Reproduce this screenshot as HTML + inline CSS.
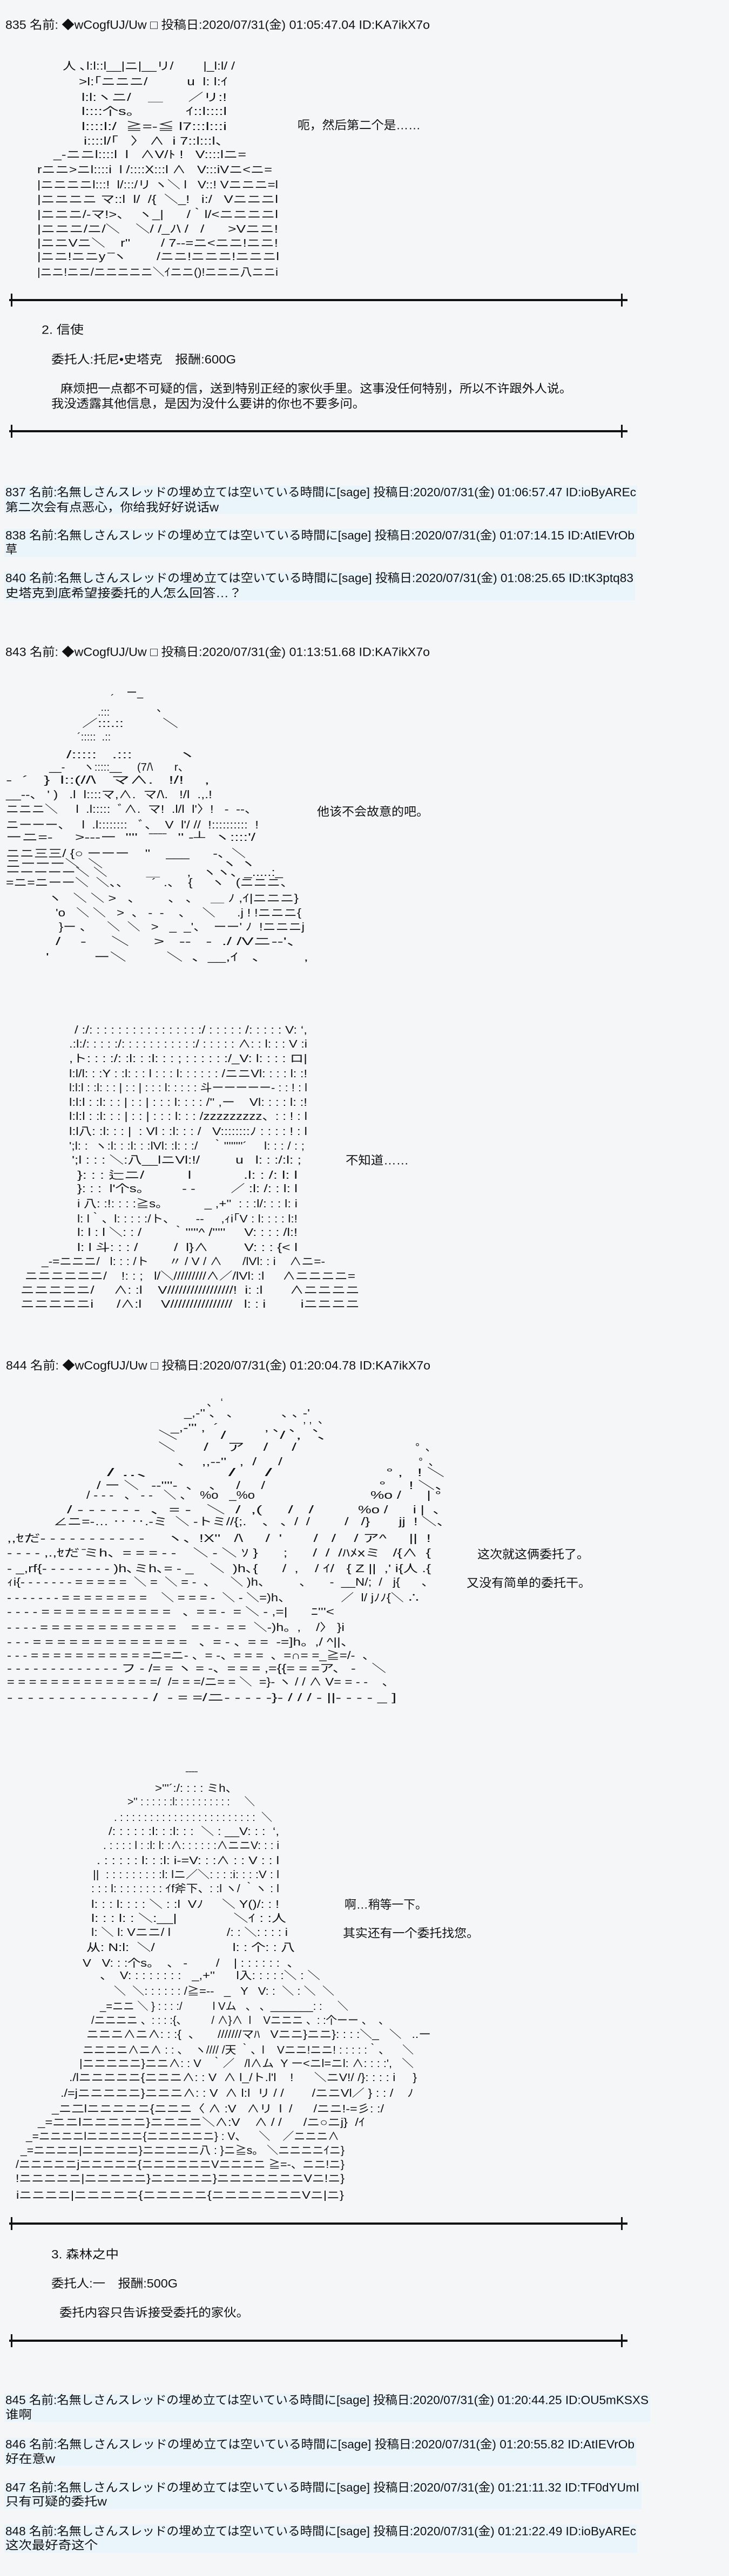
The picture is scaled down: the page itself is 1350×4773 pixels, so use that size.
<!DOCTYPE html>
<html><head><meta charset="utf-8"><style>
html,body{margin:0;padding:0;background:#f5f6f7;}
svg{display:block}
text{font-family:"Liberation Sans","Noto Sans CJK JP",sans-serif;fill:#111;dominant-baseline:central;white-space:pre}
.a{font-size:20px}
.t{font-size:22px}
</style></head><body>
<svg width="1350" height="4773" viewBox="0 0 1350 4773" xmlns="http://www.w3.org/2000/svg" xml:space="preserve">
<rect width="1350" height="4773" fill="#f5f6f7"/>
<!-- highlight for anon posts -->
<g fill="#eaf4fb">
<rect x="8" y="900" width="1172" height="52"/><rect x="8" y="980" width="1170" height="52"/><rect x="8" y="1059" width="1168" height="54"/>
<rect x="8" y="4435" width="1196" height="52"/><rect x="8" y="4517" width="1170" height="52"/><rect x="8" y="4597" width="1180" height="52"/><rect x="8" y="4678" width="1172" height="52"/>
</g>
<!-- rules -->
<g fill="#111">
<rect x="17" y="554" width="1145" height="4"/><rect x="20" y="544" width="3" height="24"/><rect x="1150" y="544" width="3" height="24"/>
<rect x="17" y="797" width="1145" height="4"/><rect x="20" y="787" width="3" height="24"/><rect x="1150" y="787" width="3" height="24"/>
<rect x="17" y="4118" width="1145" height="4"/><rect x="20" y="4108" width="3" height="24"/><rect x="1150" y="4108" width="3" height="24"/>
<rect x="17" y="4335" width="1145" height="4"/><rect x="20" y="4325" width="3" height="24"/><rect x="1150" y="4325" width="3" height="24"/>
</g>

<!-- headers and posts -->
<g class="t">
<text class="t" x="10" y="46" textLength="786" lengthAdjust="spacingAndGlyphs">835 名前: ◆wCogfUJ/Uw □ 投稿日:2020/07/31(金) 01:05:47.04 ID:KA7ikX7o</text>
<text class="t" x="551" y="232" textLength="228" lengthAdjust="spacingAndGlyphs">呃，然后第二个是……</text>
<text class="t" x="77" y="611" textLength="78" lengthAdjust="spacingAndGlyphs">2. 信使</text>
<text class="t" x="95" y="666" textLength="342" lengthAdjust="spacingAndGlyphs">委托人:托尼•史塔克　报酬:600G</text>
<text class="t" x="112" y="720" textLength="947" lengthAdjust="spacingAndGlyphs">麻烦把一点都不可疑的信，送到特别正经的家伙手里。这事没任何特别，所以不许跟外人说。</text>
<text class="t" x="95" y="748" textLength="581" lengthAdjust="spacingAndGlyphs">我没透露其他信息，是因为没什么要讲的你也不要多问。</text>

<text class="t" x="10" y="912" textLength="1168" lengthAdjust="spacingAndGlyphs">837 名前:名無しさんスレッドの埋め立ては空いている時間に[sage] 投稿日:2020/07/31(金) 01:06:57.47 ID:ioByAREc</text>
<text class="t" x="10" y="940" textLength="395" lengthAdjust="spacingAndGlyphs">第二次会有点恶心，你给我好好说话w</text>
<text class="t" x="10" y="992" textLength="1165" lengthAdjust="spacingAndGlyphs">838 名前:名無しさんスレッドの埋め立ては空いている時間に[sage] 投稿日:2020/07/31(金) 01:07:14.15 ID:AtIEVrOb</text>
<text class="t" x="10" y="1018">草</text>
<text class="t" x="10" y="1071" textLength="1163" lengthAdjust="spacingAndGlyphs">840 名前:名無しさんスレッドの埋め立ては空いている時間に[sage] 投稿日:2020/07/31(金) 01:08:25.65 ID:tK3ptq83</text>
<text class="t" x="10" y="1099" textLength="438" lengthAdjust="spacingAndGlyphs">史塔克到底希望接委托的人怎么回答…？</text>

<text class="t" x="10" y="1208" textLength="786" lengthAdjust="spacingAndGlyphs">843 名前: ◆wCogfUJ/Uw □ 投稿日:2020/07/31(金) 01:13:51.68 ID:KA7ikX7o</text>
<text class="t" x="587" y="1504" textLength="207" lengthAdjust="spacingAndGlyphs">他该不会故意的吧。</text>
<text class="t" x="640" y="2150" textLength="117" lengthAdjust="spacingAndGlyphs">不知道……</text>

<text class="t" x="11" y="2530" textLength="786" lengthAdjust="spacingAndGlyphs">844 名前: ◆wCogfUJ/Uw □ 投稿日:2020/07/31(金) 01:20:04.78 ID:KA7ikX7o</text>
<text class="t" x="884" y="2880" textLength="207" lengthAdjust="spacingAndGlyphs">这次就这俩委托了。</text>
<text class="t" x="864" y="2933" textLength="230" lengthAdjust="spacingAndGlyphs">又没有简单的委托干。</text>
<text class="t" x="638" y="3529" textLength="153" lengthAdjust="spacingAndGlyphs">啊…稍等一下。</text>
<text class="t" x="635" y="3582" textLength="252" lengthAdjust="spacingAndGlyphs">其实还有一个委托找您。</text>

<text class="t" x="95" y="4177" textLength="125" lengthAdjust="spacingAndGlyphs">3. 森林之中</text>
<text class="t" x="95" y="4231" textLength="234" lengthAdjust="spacingAndGlyphs">委托人:一　报酬:500G</text>
<text class="t" x="110" y="4285" textLength="351" lengthAdjust="spacingAndGlyphs">委托内容只告诉接受委托的家伙。</text>

<text class="t" x="10" y="4447" textLength="1191" lengthAdjust="spacingAndGlyphs">845 名前:名無しさんスレッドの埋め立ては空いている時間に[sage] 投稿日:2020/07/31(金) 01:20:44.25 ID:OU5mKSXS</text>
<text class="t" x="10" y="4474" textLength="49" lengthAdjust="spacingAndGlyphs">谁啊</text>
<text class="t" x="10" y="4529" textLength="1165" lengthAdjust="spacingAndGlyphs">846 名前:名無しさんスレッドの埋め立ては空いている時間に[sage] 投稿日:2020/07/31(金) 01:20:55.82 ID:AtIEVrOb</text>
<text class="t" x="10" y="4556" textLength="92" lengthAdjust="spacingAndGlyphs">好在意w</text>
<text class="t" x="10" y="4609" textLength="1174" lengthAdjust="spacingAndGlyphs">847 名前:名無しさんスレッドの埋め立ては空いている時間に[sage] 投稿日:2020/07/31(金) 01:21:11.32 ID:TF0dYUmI</text>
<text class="t" x="10" y="4635" textLength="188" lengthAdjust="spacingAndGlyphs">只有可疑的委托w</text>
<text class="t" x="10" y="4690" textLength="1168" lengthAdjust="spacingAndGlyphs">848 名前:名無しさんスレッドの埋め立ては空いている時間に[sage] 投稿日:2020/07/31(金) 01:21:22.49 ID:ioByAREc</text>
<text class="t" x="10" y="4716" textLength="171" lengthAdjust="spacingAndGlyphs">这次最好奇这个</text>
</g>

<!-- AA block 1 -->
<g class="a">
<text class="a" x="116" y="123" textLength="319" lengthAdjust="spacingAndGlyphs">人 ､l:l::l__|ニ|__リ/        |_l:l/ /</text>
<text class="a" x="146" y="152" textLength="276" lengthAdjust="spacingAndGlyphs">&gt;l:｢ニニニ/          u  l: l:ｲ</text>
<text class="a" x="151" y="181" textLength="269" lengthAdjust="spacingAndGlyphs">l:l:ヽニ/    ＿      ／リ:!</text>
<text class="a" x="151" y="207" textLength="269" lengthAdjust="spacingAndGlyphs">l::::个s。          ｲ::l::::l</text>
<text class="a" x="151" y="235" textLength="269" lengthAdjust="spacingAndGlyphs">l::::l:/  ≧=-≦ l7:::l:::i</text>
<text class="a" x="155" y="262" textLength="271" lengthAdjust="spacingAndGlyphs">i::::l/｢   〉 ∧  i 7::l:::l、</text>
<text class="a" x="99" y="287" textLength="357" lengthAdjust="spacingAndGlyphs">_-ニニl::::l  l   ∧V/ﾄ !   V::::lニ=</text>
<text class="a" x="69" y="315" textLength="435" lengthAdjust="spacingAndGlyphs">rニニ&gt;ニl::::i  l /::::X:::l ∧   V:::iVニ&lt;ニ=</text>
<text class="a" x="69" y="343" textLength="446" lengthAdjust="spacingAndGlyphs">|ニニニニl:::!  l/:::/リ ヽ＼ l   V::! Vニニニ=l</text>
<text class="a" x="69" y="370" textLength="446" lengthAdjust="spacingAndGlyphs">|ニニニニ マ::l  l/  /{  ＼_!   i:/   Vニニニl</text>
<text class="a" x="69" y="398" textLength="446" lengthAdjust="spacingAndGlyphs">|ニニニ/-マ!&gt;、  ヽ_|      /｀l/&lt;ニニニニl</text>
<text class="a" x="69" y="425" textLength="446" lengthAdjust="spacingAndGlyphs">|ニニニ/ニ/＼    ＼/ /_ﾉ\ /   /      &gt;Vニニ!</text>
<text class="a" x="69" y="451" textLength="446" lengthAdjust="spacingAndGlyphs">|ニニVニ＼    r''        / 7--=ニ&lt;ニニ!ニニ!</text>
<text class="a" x="69" y="476" textLength="448" lengthAdjust="spacingAndGlyphs">|ニニ!ニニy ̄ ̄ヽ        /ニニ!ニニニ!ニニニl</text>
<text class="a" x="69" y="505" textLength="446" lengthAdjust="spacingAndGlyphs">|ニニ!ニニ/ニニニニニ＼ｲニニ()!ニニニ八ニニi</text>
</g>

<!-- AA block 2 -->
<g class="a">
<text class="a" x="234" y="1284">ー_</text>
<text class="a" x="205" y="1295">´</text>
<text class="a" x="290" y="1312">、</text>
<text class="a" x="181" y="1320">.:::</text>
<text class="a" x="152" y="1341" textLength="178" lengthAdjust="spacingAndGlyphs">／:::.::         ＼</text>
<text class="a" x="143" y="1366">´:::::  .::</text>
<text class="a" x="123" y="1399" textLength="240" lengthAdjust="spacingAndGlyphs">/:::::   .:::         ヽ</text>
<text class="a" x="91" y="1422" textLength="259" lengthAdjust="spacingAndGlyphs">__-      ヽ:::::__     (7/\       r、</text>
<text class="a" x="11" y="1446" textLength="377" lengthAdjust="spacingAndGlyphs">-  ´   }  l::(//\   マ∧.   !/!    ,</text>
<text class="a" x="11" y="1473" textLength="382" lengthAdjust="spacingAndGlyphs">__--、 ' )   .l  l::::マ,∧.  マ/\.   !/l  .,.!</text>
<text class="a" x="11" y="1500" textLength="466" lengthAdjust="spacingAndGlyphs">ニニニ＼     l  .l:::::  ﾞ∧.  マ!  .l/l  l'〉!   -  --、</text>
<text class="a" x="11" y="1529" textLength="468" lengthAdjust="spacingAndGlyphs">ニーーー、   l  .l::::::::   ﾞ、  V  l'/ //  !::::::::::  !</text>
<text class="a" x="11" y="1552" textLength="462" lengthAdjust="spacingAndGlyphs">ーニ=-     &gt;---ー  ''''   ̄ ̄ ̄ ̄   '' -┴  ヽ::::'/</text>
<text class="a" x="11" y="1582" textLength="444" lengthAdjust="spacingAndGlyphs">ニニ三三/ {○ ーーー    ''    ___      -、＼</text>
<text class="a" x="11" y="1601" textLength="462" lengthAdjust="spacingAndGlyphs">ニーーー＼  ＼                             ヽ ヽ</text>
<text class="a" x="11" y="1617" textLength="513" lengthAdjust="spacingAndGlyphs">ーーーーー＼ ＼          ＿       ,   ヽヽ、_.....:_</text>
<text class="a" x="11" y="1636" textLength="533" lengthAdjust="spacingAndGlyphs">=ニ=ニーー＼  ＼、、      ´  .、  {     ヽ   (ニニニ、</text>
<text class="a" x="89" y="1665" textLength="464" lengthAdjust="spacingAndGlyphs">ヽ   ＼ ＼ &gt;   、       、 、   ＿ ﾉ ,ｲ|ニニニ}</text>
<text class="a" x="103" y="1692" textLength="455" lengthAdjust="spacingAndGlyphs">'o   ＼ ＼   &gt;  、 -  -    、   ＼      .j ! !ニニニ{</text>
<text class="a" x="109" y="1718" textLength="455" lengthAdjust="spacingAndGlyphs">}ー 、    ＼  ＼   &gt;   _  _'、  ーー' ﾉ  !ニニニj</text>
<text class="a" x="103" y="1745" textLength="461" lengthAdjust="spacingAndGlyphs">/    -     ＼     &gt;   --   -  ./ /Vニ--'、</text>
<text class="a" x="85" y="1774" textLength="486" lengthAdjust="spacingAndGlyphs">'          ー＼         ＼  、__,ｲ   、        ,</text>
</g>

<!-- AA block 3 -->
<g class="a">
<text class="a" x="138" y="1909" textLength="431" lengthAdjust="spacingAndGlyphs">/ :/: : : : : : : : : : : : : : : :/ : : : : : /: : : : : V: ‘,</text>
<text class="a" x="128" y="1935" textLength="441" lengthAdjust="spacingAndGlyphs">.:l:/: : : : :/: : : : : : : : : : :/ : : : : : ∧: : l: : : V :i</text>
<text class="a" x="128" y="1962" textLength="441" lengthAdjust="spacingAndGlyphs">,ト: : : :/: :l: : :l: : : ; : : : : : :/_V: l: : : : ロ|</text>
<text class="a" x="128" y="1990" textLength="441" lengthAdjust="spacingAndGlyphs">l:l/l: : :Y : :l: : : l : : : l: : : : : : /ニニVl: : : : l: :!</text>
<text class="a" x="128" y="2016" textLength="441" lengthAdjust="spacingAndGlyphs">l:l:l : :l: : : | : : | : : : l: : : : : 斗ーーーーー- : : ! : l</text>
<text class="a" x="128" y="2043" textLength="441" lengthAdjust="spacingAndGlyphs">l:l:l : :l: : : | : : | : : : l: : : : /'' ,ー    Vl: : : : l: :!</text>
<text class="a" x="128" y="2069" textLength="441" lengthAdjust="spacingAndGlyphs">l:l:l : :l: : : | : : | : : : l: : : /zzzzzzzzz、: : ! : l</text>
<text class="a" x="128" y="2097" textLength="441" lengthAdjust="spacingAndGlyphs">l:l八: :l: : : |  : Vl : :l: : : /   V::::::::ﾉ : : : : ! : l</text>
<text class="a" x="128" y="2124" textLength="436" lengthAdjust="spacingAndGlyphs">';l: :  ヽ:l: : :l: : :lVl: :l: : :/    ｀''''''''´     l: : : / : ;</text>
<text class="a" x="133" y="2150" textLength="425" lengthAdjust="spacingAndGlyphs">';l : : : ＼:八__lニVl:!/         u   l: : :/:l: ;</text>
<text class="a" x="143" y="2178" textLength="408" lengthAdjust="spacingAndGlyphs">}: : : 辷ニ/          l            .l: : /: l: l</text>
<text class="a" x="143" y="2203" textLength="408" lengthAdjust="spacingAndGlyphs">}: : :  l'个s。        - -         ／ :l: /: : l: l</text>
<text class="a" x="143" y="2231" textLength="408" lengthAdjust="spacingAndGlyphs">i 八: :!: : : :≧s。          _ ,+''  : : :l/: : : l: i</text>
<text class="a" x="143" y="2259" textLength="408" lengthAdjust="spacingAndGlyphs">l: l｀、l: : : : :/ト、      --     ,ｨi｢V : l: : : : l:!</text>
<text class="a" x="143" y="2284" textLength="408" lengthAdjust="spacingAndGlyphs">l: l : l ＼: : /        ｀'''''^ /'''''     V: : : : /l:!</text>
<text class="a" x="143" y="2312" textLength="408" lengthAdjust="spacingAndGlyphs">l: l 斗: : : /         /  l}∧         V: : : {&lt; l</text>
<text class="a" x="77" y="2338" textLength="525" lengthAdjust="spacingAndGlyphs">_-=ニニニ/   l: : : /ト      〃 / V / ∧      /lVl: : i    ∧ニ=-</text>
<text class="a" x="46" y="2365" textLength="612" lengthAdjust="spacingAndGlyphs">ニニニニニニ/    !: : ;   l/＼/////////∧／/lVl: :l     ∧ニニニニ=</text>
<text class="a" x="38" y="2391" textLength="628" lengthAdjust="spacingAndGlyphs">ニニニニニ/     ∧: :l    V/////////////////!  i: :l       ∧ニニニニ</text>
<text class="a" x="38" y="2417" textLength="628" lengthAdjust="spacingAndGlyphs">ニニニニニi      /∧:l     V////////////////   l: : i         iニニニニ</text>
</g>

<!-- AA block 4 -->
<g class="a">
<text class="a" x="383" y="2599">、 ‘</text>
<text class="a" x="341" y="2619" textLength="233" lengthAdjust="spacingAndGlyphs">_,-'' 、 、           ､ ､ ‐'</text>
<text class="a" x="561" y="2631">, ,  、</text>
<text class="a" x="316" y="2646" textLength="290" lengthAdjust="spacingAndGlyphs">_,-''' ,  ´           , ､  、  、</text>
<text class="a" x="293" y="2660" textLength="313" lengthAdjust="spacingAndGlyphs">＼        /          /  ,   ､</text>
<text class="a" x="293" y="2682" textLength="256" lengthAdjust="spacingAndGlyphs">＼      /    ア    /     /</text>
<text class="a" x="769" y="2682">°  ､</text>
<text class="a" x="329" y="2709" textLength="194" lengthAdjust="spacingAndGlyphs">、  ,,--''   ,  /     /</text>
<text class="a" x="775" y="2709">°  ､</text>
<text class="a" x="198" y="2729" textLength="306" lengthAdjust="spacingAndGlyphs">/ ..、         /    /</text>
<text class="a" x="715" y="2729" textLength="108" lengthAdjust="spacingAndGlyphs">° ,   ! ＼</text>
<text class="a" x="179" y="2753" textLength="312" lengthAdjust="spacingAndGlyphs">/ ー ＼   --''''-  、  、   /     /</text>
<text class="a" x="702" y="2753" textLength="134" lengthAdjust="spacingAndGlyphs">°     ! ＼、</text>
<text class="a" x="160" y="2771" textLength="312" lengthAdjust="spacingAndGlyphs">/ - - -   、 - -   ＼ 、  %o   _%o</text>
<text class="a" x="686" y="2771" textLength="131" lengthAdjust="spacingAndGlyphs">%o /      | °</text>
<text class="a" x="124" y="2798" textLength="457" lengthAdjust="spacingAndGlyphs">/ - - - - - -  、= -   ＼  /  ,(     /   /</text>
<text class="a" x="663" y="2798" textLength="166" lengthAdjust="spacingAndGlyphs">%o /      i |  、</text>
<text class="a" x="99" y="2820" textLength="475" lengthAdjust="spacingAndGlyphs">∠ニ=‐… ‥ ‥.‐ミ  ＼ -トミ//{;.    、 、/  /</text>
<text class="a" x="638" y="2820" textLength="198" lengthAdjust="spacingAndGlyphs">/   /}       jj  ! ＼、</text>
<text class="a" x="13" y="2851" textLength="785" lengthAdjust="spacingAndGlyphs">,,ｾだ- - - - - - - - - - -     ヽ、!X''   /\     /  '       /   /    / ア^     ||  !</text>
<text class="a" x="13" y="2878" textLength="785" lengthAdjust="spacingAndGlyphs">- - - - ,.,ｾだ ̄ミh、= = = - -    ＼ - ＼ ｿ }      ;      /  /  /ﾊﾒxミ   /{∧  {</text>
<text class="a" x="13" y="2907" textLength="785" lengthAdjust="spacingAndGlyphs">- _,rf{- - - - - - - - )h､ミh､= - _    ＼  )h､{      /  ,    / ｲ/   { Z ||  ,' i{人 .{</text>
<text class="a" x="13" y="2932" textLength="791" lengthAdjust="spacingAndGlyphs">ｨi{- - - - - - - = = = = =  ＼ =  ＼ = -  、    ＼ )h、        、     -  __N/;  /   j{      、</text>
<text class="a" x="13" y="2961" textLength="765" lengthAdjust="spacingAndGlyphs">- - - - - - - = = = = = = = =    ＼ = = = -  ＼ - ＼=)h、              ／  l/ jﾉﾉ{＼ ∴</text>
<text class="a" x="13" y="2987" textLength="606" lengthAdjust="spacingAndGlyphs">- - - - = = = = = = = = = = =   、= = -  = ＼ - ,=|      ﾆ'''&lt;</text>
<text class="a" x="13" y="3016" textLength="625" lengthAdjust="spacingAndGlyphs">- - - - = = = = = = = = = = = =    = = -  = =  ＼-)h。,    /〉 }i</text>
<text class="a" x="13" y="3043" textLength="644" lengthAdjust="spacingAndGlyphs">- - - = = = = = = = = = = = = =   、= - 、= =  -=]h。,/ ^||、</text>
<text class="a" x="13" y="3068" textLength="682" lengthAdjust="spacingAndGlyphs">- - - = = = = = = = = = = =ニ=ニ- 、= -、= = =  、=∩= =_≧=/-  、</text>
<text class="a" x="13" y="3092" textLength="702" lengthAdjust="spacingAndGlyphs">- - - - - - - - - - - - - フ - /= = ヽ = -、= = = ,={{= = =ア、 -    ＼</text>
<text class="a" x="13" y="3117" textLength="718" lengthAdjust="spacingAndGlyphs">= = = = = = = = = = = = = =/  /= = =/ニ= = ＼  =}- ヽ / / ∧ V= = - -    、</text>
<text class="a" x="13" y="3146" textLength="721" lengthAdjust="spacingAndGlyphs">- - - - - - - - - - - - - - /  - = =/ニ- - - - -}- / / / - ||- - - - _ ]</text>
</g>

<!-- AA block 5 -->
<g class="a">
<text class="a" x="341" y="3290"> ̄ ̄ ̄ ̄</text>
<text class="a" x="287" y="3314" textLength="153" lengthAdjust="spacingAndGlyphs">&gt;'''´:/: : : : ミh、</text>
<text class="a" x="236" y="3339" textLength="236" lengthAdjust="spacingAndGlyphs">&gt;'' : : : : : :l: : : : : : : : : :     ＼</text>
<text class="a" x="211" y="3368" textLength="293" lengthAdjust="spacingAndGlyphs">. : : : : : : : : : : : : : : : : : : : : : : :  ＼</text>
<text class="a" x="201" y="3394" textLength="316" lengthAdjust="spacingAndGlyphs">/: : : : : :l: : :l: : :  ＼ : __V: : :  ‘,</text>
<text class="a" x="191" y="3420" textLength="326" lengthAdjust="spacingAndGlyphs">. : : : : l : :l: l: :∧: : : : : :∧ニニV: : : i</text>
<text class="a" x="179" y="3448" textLength="338" lengthAdjust="spacingAndGlyphs">. : : : : : l: : :l: i-=V: : :∧ : : V : : l</text>
<text class="a" x="172" y="3474" textLength="345" lengthAdjust="spacingAndGlyphs">||  : : : : : : : : :l: lニ／＼: : : :i: : : :V : l</text>
<text class="a" x="169" y="3500" textLength="348" lengthAdjust="spacingAndGlyphs">: : : l: : : : : : : : ｲf斧下、: :l ヽ/ ｀ヽ : l</text>
<text class="a" x="169" y="3529" textLength="348" lengthAdjust="spacingAndGlyphs">l: : : l: : : : ＼ : :l  Vﾉ     ＼ Y()/: : !</text>
<text class="a" x="169" y="3555" textLength="361" lengthAdjust="spacingAndGlyphs">l: : : l: : ＼:__|              ＼ｲ : :人</text>
<text class="a" x="169" y="3581" textLength="364" lengthAdjust="spacingAndGlyphs">l: ＼ l: Vニニ/ l                /: : ＼: : : : i</text>
<text class="a" x="160" y="3609" textLength="386" lengthAdjust="spacingAndGlyphs">从: N:l:  ＼/                    l: : 个: : 八</text>
<text class="a" x="153" y="3638" textLength="402" lengthAdjust="spacingAndGlyphs">V   V: : :个s。  、 -        /    | : : : : : :  、</text>
<text class="a" x="185" y="3661" textLength="408" lengthAdjust="spacingAndGlyphs">、  V: : : : : : : :   _,+''      l入: : : : :＼ : ＼</text>
<text class="a" x="211" y="3690" textLength="408" lengthAdjust="spacingAndGlyphs">＼  ＼: : : : : : /≧=--   _   Y   V: :  ＼ : ＼  ＼</text>
<text class="a" x="185" y="3718" textLength="460" lengthAdjust="spacingAndGlyphs">_=ニニ ＼ } : : : :/          l Vム   、 、_______: :     ＼</text>
<text class="a" x="169" y="3744" textLength="552" lengthAdjust="spacingAndGlyphs">/ニニニニ 、: : : :{、        / ∧}∧  l    Vニニニ 、: :个ーー 、  、</text>
<text class="a" x="160" y="3770" textLength="638" lengthAdjust="spacingAndGlyphs">ニニニ∧ニ∧: : :{  、     ///////マﾊ   Vニニ}ニニ}: : : :＼_   ＼   ..ー</text>
<text class="a" x="153" y="3799" textLength="613" lengthAdjust="spacingAndGlyphs">ニニニニ∧ニ∧ : : 、  ヽ//// /天 ｀、l    Vニニ!ニニ! : : : : :｀、    ＼</text>
<text class="a" x="147" y="3824" textLength="619" lengthAdjust="spacingAndGlyphs">|ニニニニニ}ニニ∧: : V   ｀／   /l∧ム  Y ー&lt;ニl=ニl: ∧: : : :',   ＼</text>
<text class="a" x="128" y="3850" textLength="644" lengthAdjust="spacingAndGlyphs">./lニニニニニ{ニニニ∧: : V  ∧ l_/ト.l'l    !      ＼ニV!/ /}: : : : i     }</text>
<text class="a" x="112" y="3879" textLength="654" lengthAdjust="spacingAndGlyphs">./=jニニニニニ}ニニニ∧: : V  ∧ l:l  リ / /        /ニニVl／ } : : /    ﾉ</text>
<text class="a" x="96" y="3908" textLength="615" lengthAdjust="spacingAndGlyphs">_ニ二lニニニニニ{ニニニ〈 ∧ :V   ∧リ  l  /      /ニニ!-=彡: :/</text>
<text class="a" x="70" y="3933" textLength="606" lengthAdjust="spacingAndGlyphs">_=ニニlニニニニニ}ニニニニ＼∧:V    ∧ / /      /ニ○ニj}  /ｲ</text>
<text class="a" x="48" y="3959" textLength="580" lengthAdjust="spacingAndGlyphs">_=ニニニニlニニニニニ{ニニニニニニ} : V、    ＼    ／ニニニ∧</text>
<text class="a" x="38" y="3985" textLength="600" lengthAdjust="spacingAndGlyphs">_=ニニニニ|ニニニニニ}ニニニニニ八 : }ニ≧s。 ＼ニニニニｲニ}</text>
<text class="a" x="29" y="4011" textLength="609" lengthAdjust="spacingAndGlyphs">/ニニニニニjニニニニニ{ニニニニニニVニニニニ ≧=-、ニニ!ニ}</text>
<text class="a" x="29" y="4037" textLength="609" lengthAdjust="spacingAndGlyphs">!ニニニニニ|ニニニニニ}ニニニニニ}ニニニニニニニVニ!ニ}</text>
<text class="a" x="30" y="4068" textLength="607" lengthAdjust="spacingAndGlyphs">iニニニニ|ニニニニニ{ニニニニニ{ニニニニニニニVニ|ニ}</text>
</g>
</svg>
</body></html>
